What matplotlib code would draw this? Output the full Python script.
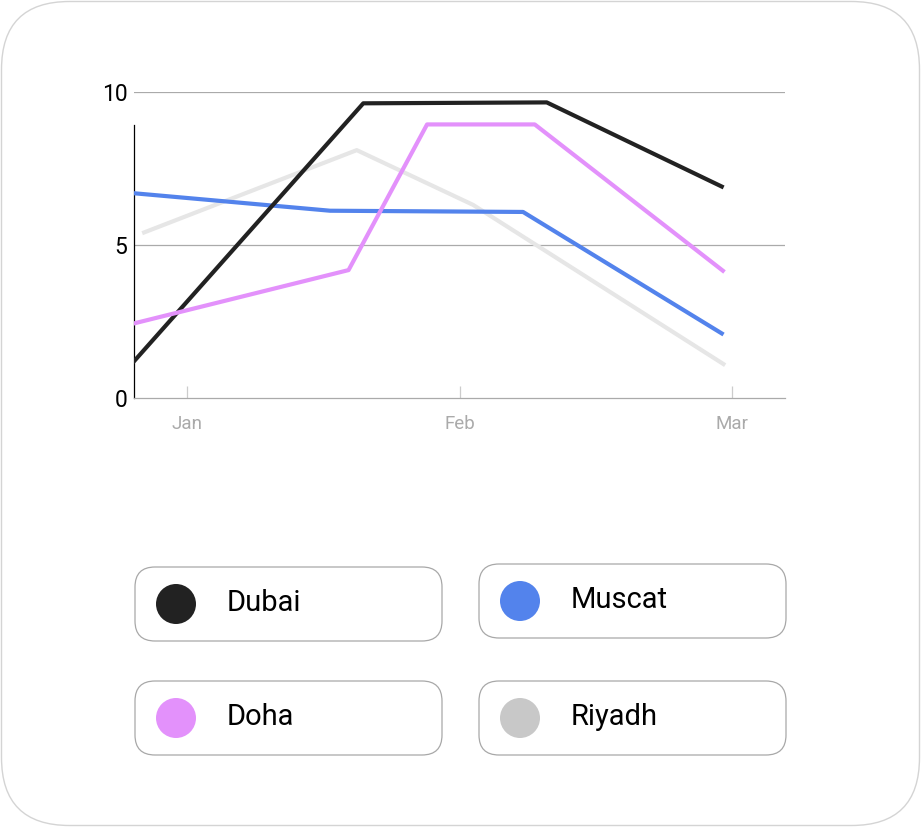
import matplotlib
matplotlib.use("Agg")
import matplotlib.pyplot as plt
from matplotlib.patches import FancyBboxPatch, Circle

plt.rcParams['font.family'] = ['Roboto', 'DejaVu Sans']

# x in months from Jan (0 = Jan, 1 = Feb, 2 = Mar)
months = ['Jan', 'Feb', 'Mar']
dubai_x = [-0.194, 0.646, 1.319, 1.961]
dubai_y = [1.22, 9.64, 9.67, 6.92]
muscat_x = [-0.194, 0.524, 1.232, 1.961]
muscat_y = [6.70, 6.13, 6.09, 2.12]
doha_x = [-0.194, 0.592, 0.880, 1.275, 1.965]
doha_y = [2.45, 4.19, 8.95, 8.95, 4.17]
riyadh_x = [-0.158, 0.622, 1.049, 1.967]
riyadh_y = [5.42, 8.11, 6.32, 1.12]

names = ['Dubai', 'Muscat', 'Doha', 'Riyadh']
line_colors = ['#222222', '#5383ec', '#e391fb', '#e6e6e6']
dot_colors = ['#222222', '#5383ec', '#e391fb', '#c8c8c8']

W, H = 921, 827
fig = plt.figure(figsize=(W / 100, H / 100), dpi=100)

# background card
bg = fig.add_axes([0, 0, 1, 1])
bg.set_xlim(0, W)
bg.set_ylim(H, 0)
bg.axis('off')
bg.add_patch(FancyBboxPatch((1.5, 1.5), W - 3, H - 3,
                            boxstyle='round,pad=0,rounding_size=68',
                            fc='white', ec='#d4d4d4', lw=1))

# chart
ax = fig.add_axes([134.3 / W, 1 - 398.3 / H, (785 - 134.3) / W, 306 / H])
ax.set_facecolor('none')
ax.plot(riyadh_x, riyadh_y, color=line_colors[3], lw=3, zorder=2)
ax.plot(muscat_x, muscat_y, color=line_colors[1], lw=3, zorder=3)
ax.plot(dubai_x, dubai_y, color=line_colors[0], lw=3, zorder=4)
ax.plot(doha_x, doha_y, color=line_colors[2], lw=3, zorder=5)

ax.set_xlim(-0.194, 2.193)
ax.set_ylim(0, 10)
ax.set_yticks([0, 5, 10])
ax.set_yticklabels(['0', '5', '10'])
ax.set_xticks([0, 1, 2])
ax.set_xticklabels(months)
for y in [5, 10]:
    ax.axhline(y, color='#aaaaaa', lw=0.9, zorder=1)
for s in ['top', 'right']:
    ax.spines[s].set_visible(False)
ax.spines['bottom'].set_color('#aaaaaa')
ax.spines['bottom'].set_linewidth(0.9)
ax.spines['left'].set_color('black')
ax.spines['left'].set_linewidth(0.9)
ax.spines['left'].set_bounds(0, 8.93)
ax.tick_params(axis='y', length=0, pad=5, labelsize=16.5, labelcolor='black')
ax.tick_params(axis='x', direction='in', length=9, width=0.9, color='#cccccc',
               pad=12, labelsize=13.5, labelcolor='#aaaaaa')

# legend cards
boxes = [(135, 567), (479, 564), (135, 681), (479, 681)]
for (bx, by), name, c in zip(boxes, names, dot_colors):
    bg.add_patch(FancyBboxPatch((bx, by), 307, 74,
                                boxstyle='round,pad=0,rounding_size=20',
                                fc='white', ec='#a8a8a8', lw=0.9))
    bg.add_patch(Circle((bx + 41, by + 37), 20, fc=c, ec='none'))
    bg.text(bx + 92, by + 36, name, fontsize=21, color='black',
            va='center', ha='left')

fig.savefig('out.png', dpi=100)
